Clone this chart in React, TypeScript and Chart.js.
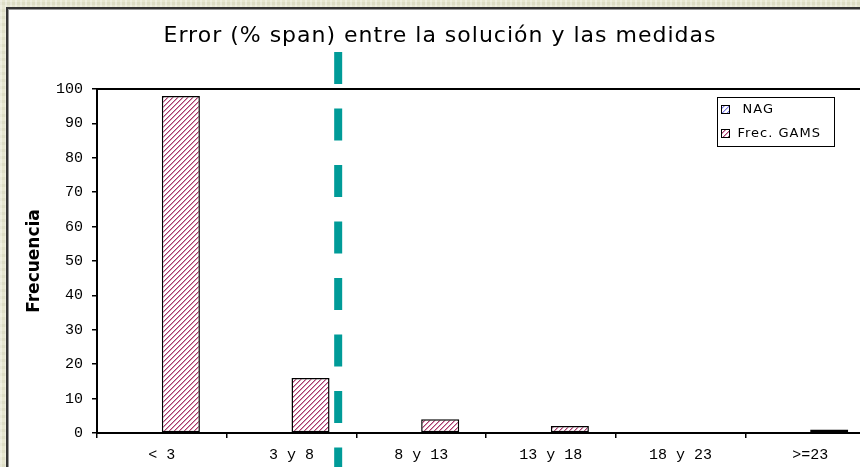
import React, { useEffect, useRef } from "react";
import { Chart, registerables } from "chart.js";

Chart.register(...registerables);

const TITLE = "Error (% span) entre la solución y las medidas";
const Y_TITLE = "Frecuencia";
const CATEGORIES = ["< 3", "3 y 8", "8 y 13", "13 y 18", "18 y 23", ">=23"];
const SERIES_NAMES = ["NAG", "Frec. GAMS"];
const NAG_VALUES = [0, 0, 0, 0, 0, 0];
const GAMS_VALUES = [98, 16, 4, 2, 0, 1];
const Y_MIN = 0;
const Y_MAX = 100;
const Y_STEP = 10;
const DIVIDER_AT = 1.36; // category-index position of the dashed marker line

const TICK_FONT = { family: "'Liberation Mono', 'Courier New', monospace", size: 15 };

function makeHatch(color: string, light: string, size = 5): CanvasPattern | string {
  const c = document.createElement("canvas");
  c.width = size;
  c.height = size;
  const g = c.getContext("2d");
  if (!g) return color;
  g.fillStyle = "#ffffff";
  g.fillRect(0, 0, size, size);
  for (let i = 0; i < size; i++) {
    g.fillStyle = color;
    g.fillRect(i, size - 1 - i, 1, 1);
    g.fillStyle = light;
    g.fillRect((i + 1) % size, size - 1 - i, 1, 1);
  }
  return g.createPattern(c, "repeat") || color;
}

export default function App() {
  const canvasRef = useRef<HTMLCanvasElement | null>(null);

  useEffect(() => {
    document.body.style.margin = "0";
    document.body.style.overflow = "hidden";
    document.documentElement.style.overflow = "hidden";
    const canvas = canvasRef.current;
    if (!canvas) return;

    const gamsFill = makeHatch("#a63c6c", "#d897b5");
    const nagFill = makeHatch("#7a7ae8", "#c4c4f6");

    const decor = {
      id: "decor",
      afterDraw(chart: any) {
        const { ctx, chartArea, scales } = chart;
        const x = scales.x;
        ctx.save();
        // title
        ctx.fillStyle = "#000";
        ctx.font = "22px 'DejaVu Sans', Verdana, sans-serif";
        (ctx as any).letterSpacing = "1px";
        ctx.textAlign = "center";
        ctx.textBaseline = "middle";
        ctx.fillText(TITLE, 440, chartArea.top - 53);
        (ctx as any).letterSpacing = "0px";

        // plot area top border
        ctx.strokeStyle = "#000";
        ctx.lineWidth = 2;
        ctx.beginPath();
        ctx.moveTo(chartArea.left, chartArea.top);
        ctx.lineTo(chartArea.right, chartArea.top);
        ctx.stroke();

        // dashed teal marker line
        const p0 = x.getPixelForValue(0);
        const p1 = x.getPixelForValue(1);
        const lx = p0 + (p1 - p0) * DIVIDER_AT;
        ctx.strokeStyle = "#009b98";
        ctx.lineWidth = 8;
        ctx.setLineDash([32, 24.5]);
        ctx.beginPath();
        ctx.moveTo(lx, chartArea.top - 37);
        ctx.lineTo(lx, chart.height + 10);
        ctx.stroke();
        ctx.setLineDash([]);

        // legend box
        const bx = chartArea.left + 620.5;
        const by = chartArea.top + 8.5;
        const bw = 117;
        const bh = 49;
        ctx.fillStyle = "#fff";
        ctx.fillRect(bx, by, bw, bh);
        ctx.strokeStyle = "#000";
        ctx.lineWidth = 1;
        ctx.strokeRect(bx, by, bw, bh);
        const fills = [nagFill, gamsFill];
        ctx.font = "13px 'DejaVu Sans', Verdana, sans-serif";
        (ctx as any).letterSpacing = "1px";
        ctx.textBaseline = "middle";
        ctx.textAlign = "left";
        SERIES_NAMES.forEach((name, i) => {
          const cy = by + 12 + i * 24;
          ctx.fillStyle = fills[i] as any;
          ctx.fillRect(bx + 4, cy - 4, 8, 8);
          ctx.strokeRect(bx + 4, cy - 4, 8, 8);
          ctx.fillStyle = "#000";
          ctx.fillText(name, bx + (i === 0 ? 25 : 20), cy + 0.5);
        });
        (ctx as any).letterSpacing = "0px";
        ctx.restore();
      },
    };

    const chart = new Chart(canvas, {
      type: "bar",
      data: {
        labels: CATEGORIES,
        datasets: [
          {
            label: SERIES_NAMES[0],
            data: NAG_VALUES,
            backgroundColor: nagFill as any,
            borderColor: "#000",
            borderWidth: 0,
            categoryPercentage: 0.587,
            barPercentage: 1,
          },
          {
            label: SERIES_NAMES[1],
            data: GAMS_VALUES,
            backgroundColor: gamsFill as any,
            borderColor: "#000",
            borderWidth: 1.5,
            borderSkipped: false,
            categoryPercentage: 0.587,
            barPercentage: 1,
          },
        ],
      },
      options: {
        responsive: false,
        animation: false,
        devicePixelRatio: 1,
        layout: { padding: { left: 0, right: 5, top: 89, bottom: 0 } },
        plugins: {
          legend: { display: false },
          tooltip: { enabled: false },
          title: { display: false },
        },
        scales: {
          x: {
            afterFit: (s: any) => {
              s.height = 34;
            },
            grid: {
              offset: true,
              drawOnChartArea: false,
              tickLength: 5,
              color: "#000",
              lineWidth: 1.5,
            },
            border: { color: "#000", width: 2 },
            ticks: { color: "#000", font: TICK_FONT, padding: 8, maxRotation: 0, autoSkip: false },
          },
          y: {
            min: Y_MIN,
            max: Y_MAX,
            afterFit: (s: any) => {
              s.width = 97;
            },
            grid: {
              drawOnChartArea: false,
              tickLength: 5,
              color: "#000",
              lineWidth: 1.5,
            },
            border: { color: "#000", width: 2 },
            ticks: { stepSize: Y_STEP, color: "#000", font: TICK_FONT, padding: 9 },
            title: {
              display: true,
              text: Y_TITLE,
              color: "#000",
              font: { family: "'DejaVu Sans', Verdana, sans-serif", size: 17, weight: "bold" },
              padding: { top: 24, bottom: 0 },
            },
          },
        },
      },
      plugins: [decor],
    });

    return () => chart.destroy();
  }, []);

  return (
    <div
      style={{
        position: "relative",
        width: 860,
        height: 467,
        overflow: "hidden",
        background:
          "repeating-linear-gradient(90deg, rgba(255,255,255,0.35) 0 2px, rgba(0,0,0,0) 2px 5px), repeating-linear-gradient(0deg, rgba(120,120,80,0.08) 0 3px, rgba(0,0,0,0) 3px 7px), #e6e6cf",
      }}
    >
      <div
        style={{
          position: "absolute",
          left: 6,
          top: 7,
          right: 0,
          bottom: 0,
          background: "#fff",
          borderLeft: "2px solid #333",
          borderTop: "2px solid #333",
          boxShadow: "inset 1px 1px 0 #9a9a9a",
        }}
      />
      <canvas
        ref={canvasRef}
        width={880}
        height={467}
        style={{ position: "absolute", left: 0, top: 0, width: 880, height: 467, display: "block" }}
      />
    </div>
  );
}
